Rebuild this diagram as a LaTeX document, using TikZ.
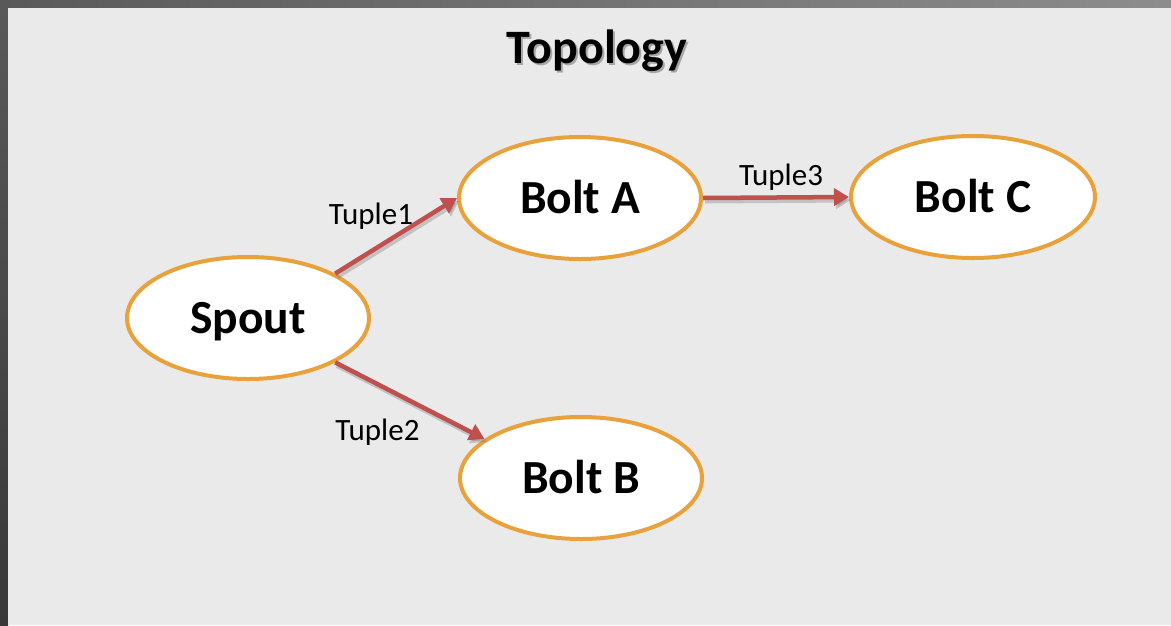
\documentclass[tikz,border=0pt]{standalone}
\usepackage{fontspec}
\setmainfont{Carlito}
\usetikzlibrary{arrows.meta,shapes.geometric}
\definecolor{bgc}{HTML}{EAEAEA}
\definecolor{orangeb}{HTML}{E9A23B}
\definecolor{arrowred}{HTML}{C0504D}
\begin{document}
\begin{tikzpicture}[x=1pt,y=-1pt,
  nodebox/.style={ellipse, draw=orangeb, line width=4pt, fill=white, minimum width=242pt, minimum height=122pt, inner sep=0pt, text height=30pt, text depth=0pt, font=\fontsize{47.5}{50}\selectfont\bfseries},
  flow/.style={draw=arrowred, line width=4.5pt, -{Triangle[length=15pt,width=17pt]},
    preaction={draw=black!60, opacity=0.3, line width=5pt, -{Triangle[length=15pt,width=17pt]}, transform canvas={shift={(2pt,-3pt)}}}},
  lbl/.style={font=\fontsize{31}{34}\selectfont, text=black, inner sep=0pt, anchor=base}]
\useasboundingbox (0,0) rectangle (1171,625);
\shade[left color=black!65, right color=black!45] (0,0) rectangle (1171,8);
\shade[top color=black!65, bottom color=black!78] (0,0) rectangle (8,625);
\fill[bgc] (8,8) rectangle (1171,625);
% title
\node[font=\fontsize{48}{52}\selectfont\bfseries, text=black!35, anchor=base, inner sep=0pt] at (599,65) {Topology};
\node (title) [font=\fontsize{48}{52}\selectfont\bfseries, anchor=base, inner sep=0pt] at (597,63) {Topology};
% nodes
\node (spout) [nodebox] at (248,318) {Spout};
\node (boltA) [nodebox] at (580,198) {Bolt A};
\node (boltB) [nodebox] at (581,478) {Bolt B};
\node (boltC) [nodebox, minimum width=244pt] at (973,197) {Bolt C};
% connectors
\draw[flow] (spout.27) -- (boltA.180);
\draw[flow] (spout.333) -- (boltB.158);
\draw[flow] (boltA.0) -- (boltC.180);
% labels
\node (t1) [lbl] at (371,224) {Tuple1};
\node (t2) [lbl] at (377.5,440) {Tuple2};
\node (t3) [lbl] at (781,185) {Tuple3};
\end{tikzpicture}
\end{document}
